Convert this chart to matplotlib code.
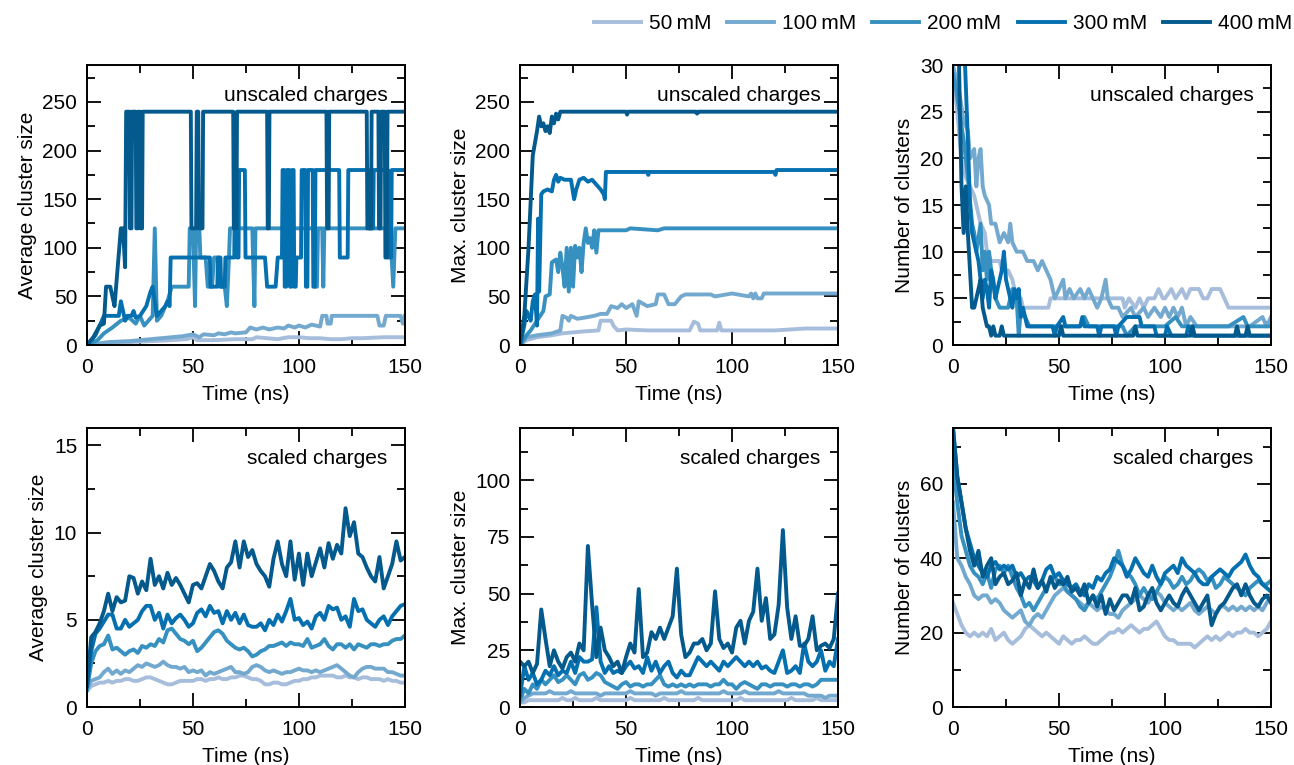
import numpy as np
import matplotlib
matplotlib.use("Agg")
import matplotlib.pyplot as plt
from matplotlib.ticker import MultipleLocator

plt.rcParams['font.family'] = ['Liberation Sans', 'DejaVu Sans']
plt.rcParams['font.size'] = 15
plt.rcParams['axes.linewidth'] = 1.4

labels = ['50\u2009mM', '100\u2009mM', '200\u2009mM', '300\u2009mM', '400\u2009mM']
colors = ['#a6bddb', '#74a9cf', '#3690c0', '#0570b0', '#045a8d']

# ---- unscaled charges, (time ns, value) pairs ----
avg_u_50 = [(0, 0), (10, 2), (20, 3), (30, 4), (40, 5), (47, 6), (50, 8), (52, 5), (60, 5), (70, 6), (78, 6),
            (80, 8), (85, 7), (90, 6), (95, 8), (100, 8), (105, 7), (110, 7), (115, 6), (120, 6), (125, 7),
            (130, 7), (140, 8), (150, 8)]
avg_u_100 = [(0, 0), (10, 3), (20, 4), (30, 6), (40, 8), (45, 9), (50, 11), (53, 8), (55, 11), (60, 10), (62, 12),
             (65, 11), (68, 13), (70, 12), (75, 13), (77, 18), (80, 16), (83, 18), (86, 16), (90, 18), (93, 17),
             (95, 20), (98, 18), (100, 20), (103, 18), (106, 21), (110, 19), (111, 30), (113, 30), (113.5, 22),
             (115, 22), (115.5, 30), (137, 30), (138, 20), (140, 20), (141, 30), (148, 30), (149, 22), (150, 30)]
avg_u_200 = [(0, 0), (5, 5), (8, 12), (12, 18), (16, 25), (20, 28), (23, 22), (25, 30), (27, 20), (29, 25),
             (31, 30), (32, 120), (33, 25), (35, 30), (38, 45), (40, 60), (48, 60), (48.5, 120), (50, 120),
             (51, 40), (51.5, 120), (53, 120), (53.5, 90), (56, 90), (57, 60), (59, 60), (60, 90), (62, 90),
             (62.5, 60), (65, 60), (66, 40), (67, 90), (67.5, 120), (78, 120), (79, 40), (79.5, 120), (107, 120),
             (107.5, 60), (108.5, 60), (109, 120), (111, 120), (111.5, 60), (112, 120), (143, 120), (144.5, 60),
             (145.5, 120), (150, 120)]
avg_u_300 = [(0, 0), (4, 10), (6, 20), (8, 30), (15, 30), (16, 45), (17, 35), (18, 25), (19, 30), (21, 30),
             (22, 35), (23, 28), (25, 30), (28, 40), (30, 55), (31, 60), (32, 45), (33, 30), (35, 35), (37, 40),
             (38, 45), (39, 40), (39.5, 90), (58, 90), (58.3, 60), (61.5, 60), (61.8, 90), (63, 90), (63.3, 60),
             (65, 60), (65.3, 90), (69.5, 90), (69.8, 180), (70.5, 180), (70.8, 90), (71.5, 90), (71.8, 180),
             (74.5, 180), (74.8, 90), (84, 90), (85, 60), (89, 60), (90, 90), (92, 90), (92.3, 180), (93, 180),
             (93.3, 60), (94, 60), (94.3, 180), (95.5, 180), (95.8, 60), (96.5, 60), (96.8, 180), (97.5, 180),
             (97.8, 60), (98.5, 60), (98.8, 90), (101, 90), (101.3, 180), (103, 180), (103.3, 60), (104, 60),
             (104.3, 180), (106.5, 180), (106.8, 60), (107.5, 60), (107.8, 180), (119, 180), (119.3, 90),
             (123, 90), (123.3, 180), (133, 180), (133.3, 120), (135, 120), (135.3, 180), (142, 180),
             (142.3, 90), (143.5, 90), (143.8, 180), (150, 180)]
avg_u_400 = [(0, 0), (3, 8), (6, 20), (8, 22), (9, 60), (11, 60), (12, 50), (13, 40), (14.5, 80), (16, 120),
             (17, 120), (18, 80), (18.5, 240), (20, 240), (20.3, 120), (21, 120), (21.3, 240), (23, 240),
             (23.3, 120), (24, 120), (24.3, 240), (25, 240), (25.3, 120), (26, 120), (26.3, 240), (49, 240),
             (49.3, 120), (51.5, 120), (51.8, 240), (52.5, 240), (52.8, 120), (54.5, 120), (54.8, 240), (69, 240),
             (69.3, 120), (70.5, 120), (70.8, 240), (85, 240), (85.3, 120), (85.8, 120), (86.1, 240), (113, 240),
             (113.3, 120), (114, 120), (114.3, 240), (132, 240), (132.3, 120), (134, 120), (134.3, 240),
             (137.5, 240), (137.8, 120), (138.5, 120), (138.8, 240), (140.5, 240), (140.8, 90), (141.5, 90),
             (141.8, 240), (150, 240)]

max_u_50 = [(0, 0), (3, 5), (8, 8), (15, 10), (20, 12), (25, 13), (30, 14), (37, 15), (38, 25), (43, 25),
            (44, 20), (46, 15), (50, 16), (60, 15), (70, 15), (80, 15), (82, 24), (84, 22), (85, 15), (93, 15),
            (94, 23), (95, 15), (110, 15), (120, 15), (135, 17), (150, 17)]
max_u_100 = [(0, 0), (3, 8), (8, 10), (15, 12), (19, 15), (20, 30), (22, 28), (23, 25), (24, 30), (27, 27),
             (30, 28), (35, 30), (38, 32), (41, 32), (43, 40), (46, 38), (48, 42), (50, 38), (53, 42), (55, 30),
             (56, 45), (60, 40), (64, 42), (65, 52), (68, 52), (70, 42), (73, 42), (76, 50), (78, 52), (90, 52),
             (92, 50), (100, 53), (108, 50), (109, 53), (110, 48), (111, 53), (112, 48), (114, 48), (115, 53),
             (150, 53)]
max_u_200 = [(0, 0), (3, 10), (5, 15), (8, 25), (11, 35), (12, 50), (14, 52), (15, 85), (17, 88), (18, 75),
             (19, 95), (20, 80), (21, 60), (22, 100), (23, 55), (24, 100), (25, 60), (26, 102), (27, 90),
             (28, 100), (29, 75), (30, 105), (31, 120), (32, 105), (33, 110), (34, 100), (35, 118), (36, 95),
             (37, 118), (50, 118), (52, 120), (65, 118), (68, 120), (150, 120)]
max_u_300 = [(0, 0), (2, 20), (3, 35), (4, 30), (5, 25), (6, 45), (7, 52), (8, 20), (8.5, 130), (9, 55),
             (10, 155), (11, 158), (13, 160), (15, 158), (16, 170), (17, 175), (18, 168), (19, 172), (21, 170),
             (24, 170), (25.5, 150), (26.5, 160), (28, 170), (30, 172), (32, 168), (34, 170), (36, 165), (38, 160),
             (39.5, 155), (40, 150), (40.5, 178), (60, 178), (60.5, 175), (61, 178), (120, 178), (120.5, 175),
             (121, 180), (150, 180)]
max_u_400 = [(0, 0), (2, 30), (4, 100), (6, 195), (8, 220), (9, 235), (10, 225), (11, 228), (12, 220), (13, 225),
             (14, 218), (15, 235), (16, 228), (17, 238), (18, 232), (19, 240), (50, 240), (50.5, 237), (51, 240),
             (83, 240), (83.5, 238), (84, 240), (150, 240)]

num_u_50 = [(0, 29), (2, 25), (4, 20), (6, 18), (10, 16), (13, 13), (15, 12), (16, 10), (18, 9), (22, 9),
            (23, 8), (26, 8), (28, 7), (30, 5), (32, 5), (33, 4), (45, 4), (46, 5), (80, 5), (81, 4), (83, 5),
            (86, 4), (88, 5), (90, 4), (92, 5), (95, 5), (97, 6), (99, 5), (100, 5), (103, 6), (105, 5), (108, 6),
            (110, 5), (112, 6), (116, 6), (118, 5), (120, 5), (122, 6), (126, 6), (128, 5), (130, 4), (150, 4)]
num_u_100 = [(0, 30), (3, 27), (5, 24), (7, 23), (8, 20), (10, 21), (11, 17), (12, 20), (13, 21), (14, 17),
             (15, 16), (17, 15), (18, 13), (20, 13), (22, 11), (24, 12), (26, 11), (27, 13), (28, 11), (30, 10),
             (33, 10), (35, 9), (38, 9), (40, 8), (42, 9), (44, 8), (46, 7), (48, 5), (50, 6), (52, 7), (53, 5),
             (55, 6), (57, 5), (60, 6), (62, 5), (64, 6), (66, 5), (68, 4), (70, 5), (72, 7), (73, 5), (75, 4),
             (78, 4), (80, 3), (84, 4), (86, 3), (90, 4), (92, 3), (95, 4), (98, 3), (100, 4), (102, 3), (104, 4),
             (106, 3), (108, 4), (110, 2), (112, 3), (115, 2), (140, 2), (146, 3), (148, 2), (150, 3)]
num_u_200 = [(0, 29), (1, 28), (3, 25), (5, 22), (7, 18), (9, 13), (10, 12), (11, 10), (13, 13), (14, 8),
             (15, 10), (16, 7), (17, 10), (18, 8), (20, 5), (22, 4), (26, 4), (28, 6), (30, 5), (31, 1), (32, 4),
             (34, 3), (36, 2), (60, 2), (62, 3), (64, 2), (80, 2), (82, 1), (86, 2), (100, 2), (105, 3), (108, 2),
             (130, 2), (137, 3), (139, 2), (150, 2)]
num_u_300 = [(0, 60), (4, 40), (6, 28), (7, 22), (8, 15), (9, 12), (10, 11), (11, 10), (12, 9), (13, 7), (14, 5),
             (15, 7), (16, 6), (17, 4), (18, 8), (19, 7), (20, 5), (21, 6), (22, 7), (23, 8), (24, 10), (25, 7),
             (26, 6), (27, 5), (28, 4), (29, 6), (30, 5), (31, 6), (32, 3), (33, 4), (34, 3), (35, 2), (47, 2),
             (48, 1), (49, 2), (52, 3), (53, 2), (60, 2), (61, 3), (62, 2), (68, 2), (69, 1), (70, 2), (76, 2),
             (77, 1), (78, 2), (82, 3), (88, 3), (89, 2), (95, 2), (96, 1), (100, 1), (101, 2), (103, 1),
             (110, 1), (111, 2), (113, 1), (150, 1)]
num_u_400 = [(0, 60), (2, 40), (3, 28), (4, 17), (5, 12), (6, 17), (7, 12), (8, 8), (9, 4), (10, 4), (11, 5),
             (12, 6), (13, 7), (14, 4), (15, 3), (16, 2), (17, 2), (18, 1), (19, 2), (20, 1), (22, 1), (23, 2),
             (24, 1), (50, 1), (51, 2), (52, 1), (85, 1), (86, 2), (87, 1), (112, 1), (113, 2), (114, 1),
             (133, 1), (134, 2), (135, 1), (138, 1), (139, 2), (140, 1), (150, 1)]

avg_unscaled = [avg_u_50, avg_u_100, avg_u_200, avg_u_300, avg_u_400]
max_unscaled = [max_u_50, max_u_100, max_u_200, max_u_300, max_u_400]
num_unscaled = [num_u_50, num_u_100, num_u_200, num_u_300, num_u_400]

# ---- scaled charges: sampled every 2 ns ----
time_scaled = np.arange(0, 151, 2)

avg_s = [
    [0.9, 1.2, 1.3, 1.4, 1.4, 1.5, 1.4, 1.5, 1.5, 1.6, 1.6, 1.5, 1.5, 1.6, 1.7, 1.7, 1.6, 1.5, 1.4, 1.3,
     1.3, 1.4, 1.5, 1.5, 1.5, 1.5, 1.6, 1.6, 1.5, 1.6, 1.6, 1.7, 1.6, 1.6, 1.7, 1.7, 1.8, 1.8, 1.7, 1.6,
     1.6, 1.5, 1.3, 1.3, 1.4, 1.4, 1.3, 1.3, 1.4, 1.5, 1.5, 1.6, 1.6, 1.7, 1.7, 1.8, 1.8, 1.8, 1.8, 1.7,
     1.7, 1.8, 1.7, 1.7, 1.6, 1.7, 1.7, 1.6, 1.6, 1.6, 1.5, 1.6, 1.5, 1.5, 1.4, 1.4],
    [1.0, 1.5, 1.6, 1.7, 2.0, 2.2, 1.9, 2.1, 1.9, 2.1, 2.0, 2.2, 2.4, 2.3, 2.5, 2.4, 2.3, 2.4, 2.6, 2.4,
     2.3, 2.3, 2.2, 2.3, 2.0, 2.1, 2.0, 2.1, 1.8, 2.0, 1.9, 2.0, 2.1, 2.2, 2.3, 2.0, 2.0, 1.9, 2.0, 2.3,
     2.4, 2.3, 2.1, 2.0, 2.1, 2.0, 1.9, 2.0, 2.0, 2.1, 2.2, 2.1, 2.1, 2.0, 2.1, 2.0, 2.1, 2.2, 2.3, 2.4,
     2.2, 2.0, 1.8, 1.7, 2.0, 2.2, 2.3, 2.3, 2.2, 2.2, 2.2, 2.0, 2.0, 1.9, 1.8, 1.8],
    [1.0, 2.5, 3.2, 3.5, 3.6, 4.1, 3.3, 3.4, 3.2, 3.0, 3.2, 3.3, 3.1, 3.5, 3.4, 3.6, 3.5, 3.9, 3.7, 4.4,
     4.5, 4.2, 3.9, 3.8, 3.6, 3.8, 3.2, 3.4, 3.7, 4.0, 4.3, 4.4, 4.2, 3.8, 3.6, 3.4, 3.3, 3.4, 3.2, 2.9,
     3.0, 3.2, 3.3, 3.5, 3.5, 3.6, 3.7, 3.5, 3.7, 3.6, 3.6, 3.5, 3.9, 3.4, 3.5, 3.6, 3.9, 3.5, 3.3, 3.6,
     3.6, 3.4, 3.6, 3.3, 3.6, 3.5, 3.4, 3.6, 3.6, 3.5, 3.6, 3.6, 3.8, 3.9, 3.9, 4.1],
    [1.2, 3.2, 4.2, 4.5, 4.9, 5.3, 5.3, 4.5, 4.5, 5.0, 4.6, 4.8, 5.0, 5.5, 5.8, 5.8, 5.0, 5.4, 4.5, 5.3,
     4.8, 5.1, 5.3, 5.0, 4.6, 4.8, 5.4, 5.6, 5.2, 5.8, 5.4, 5.5, 4.8, 5.5, 5.0, 5.4, 4.8, 5.3, 4.7, 4.6,
     4.6, 4.8, 4.4, 5.0, 4.7, 5.3, 4.9, 5.5, 6.2, 5.0, 5.1, 4.7, 4.9, 4.5, 5.2, 5.4, 5.0, 5.8, 5.6, 5.7,
     5.0, 5.2, 4.6, 6.2, 5.5, 5.6, 5.0, 4.8, 4.6, 5.0, 5.2, 4.7, 5.2, 5.5, 5.8, 5.9],
    [1.2, 4.0, 4.3, 4.8, 5.5, 6.5, 5.5, 6.3, 6.0, 6.1, 7.5, 7.4, 6.5, 7.2, 6.7, 8.5, 7.0, 7.5, 6.8, 7.7,
     7.0, 7.4, 7.0, 6.5, 6.0, 7.0, 7.1, 6.8, 7.5, 8.2, 7.8, 7.2, 6.8, 8.0, 8.3, 9.5, 8.0, 9.5, 8.6, 9.0,
     8.2, 7.8, 7.5, 6.9, 8.5, 9.5, 8.2, 7.5, 9.5, 7.3, 8.8, 7.0, 8.8, 7.5, 8.3, 9.1, 8.0, 9.4, 8.5, 9.3,
     8.8, 11.4, 9.8, 10.6, 8.8, 8.6, 8.0, 7.5, 7.2, 8.6, 6.8, 7.5, 8.2, 9.5, 8.4, 8.6],
]

max_s = [
    [2, 2, 3, 3, 3, 3, 3, 3, 3, 3, 4, 3, 3, 4, 3, 3, 3, 3, 4, 3,
     3, 3, 3, 3, 3, 3, 4, 3, 3, 3, 3, 3, 3, 3, 4, 3, 3, 3, 3, 3,
     3, 3, 4, 3, 3, 3, 3, 3, 3, 3, 3, 3, 4, 3, 3, 3, 3, 3, 3, 3,
     3, 3, 3, 3, 4, 3, 3, 3, 3, 3, 4, 3, 3, 3, 3, 3],
    [2, 4, 5, 6, 6, 6, 6, 7, 6, 6, 6, 6, 7, 6, 6, 6, 6, 6, 6, 5,
     6, 6, 6, 6, 6, 6, 7, 6, 6, 6, 6, 6, 5, 6, 6, 6, 6, 6, 7, 6,
     6, 6, 6, 6, 6, 6, 6, 6, 7, 6, 6, 6, 6, 7, 6, 6, 6, 6, 6, 6,
     6, 7, 6, 6, 6, 6, 6, 6, 5, 5, 5, 5, 4, 5, 5, 5],
    [3, 8, 6, 10, 8, 12, 10, 12, 14, 11, 12, 14, 12, 10, 14, 15, 12, 13, 15, 14,
     11, 10, 9, 8, 10, 11, 9, 10, 10, 9, 10, 10, 12, 14, 10, 9, 10, 9, 10, 9,
     10, 9, 10, 10, 10, 9, 10, 10, 12, 10, 10, 8, 10, 11, 10, 9, 8, 10, 10, 9,
     10, 10, 10, 9, 10, 10, 9, 10, 10, 9, 10, 12, 12, 12, 12, 12],
    [5, 18, 12, 15, 10, 12, 16, 14, 18, 14, 16, 15, 20, 15, 22, 20, 20, 21, 44, 20,
     15, 18, 15, 16, 15, 18, 20, 17, 18, 15, 22, 16, 20, 15, 18, 20, 15, 13, 16, 14,
     14, 18, 22, 20, 18, 20, 18, 16, 20, 18, 20, 22, 20, 18, 20, 18, 20, 17, 18, 16,
     15, 20, 25, 15, 16, 18, 15, 28, 20, 18, 20, 25, 16, 20, 18, 30],
    [20, 18, 20, 15, 19, 43, 30, 18, 25, 20, 17, 22, 24, 20, 28, 25, 71, 45, 22, 35,
     25, 22, 18, 20, 15, 22, 28, 24, 52, 22, 24, 33, 30, 35, 30, 35, 40, 61, 32, 22,
     24, 28, 28, 30, 25, 28, 51, 30, 26, 28, 24, 35, 38, 28, 38, 42, 61, 38, 48, 30,
     32, 45, 78, 44, 30, 40, 27, 27, 30, 40, 25, 27, 28, 26, 30, 50],
]

num_s = [
    [28, 25, 22, 20, 19, 20, 19, 20, 19, 21, 18, 19, 20, 18, 17, 18, 19, 21, 22, 21,
     20, 19, 20, 19, 18, 17, 19, 18, 17, 18, 18, 19, 18, 17, 17, 18, 19, 20, 20, 21,
     20, 21, 22, 21, 20, 21, 21, 22, 23, 21, 19, 18, 18, 17, 17, 17, 17, 16, 17, 18,
     19, 18, 19, 18, 19, 20, 19, 20, 20, 21, 20, 20, 19, 20, 21, 23],
    [55, 40, 38, 35, 33, 30, 29, 30, 30, 28, 29, 28, 26, 25, 24, 25, 26, 23, 22, 24,
     25, 24, 26, 28, 30, 31, 32, 31, 30, 29, 28, 27, 28, 27, 26, 27, 26, 25, 25, 24,
     26, 27, 28, 29, 30, 29, 28, 30, 31, 30, 28, 27, 26, 27, 26, 27, 28, 26, 25, 26,
     27, 26, 25, 27, 27, 26, 27, 26, 27, 26, 27, 26, 27, 26, 28, 30],
    [65, 55, 46, 42, 38, 36, 35, 33, 36, 32, 37, 38, 36, 38, 35, 32, 30, 27, 28, 26,
     28, 30, 32, 34, 35, 33, 33, 31, 30, 29, 27, 26, 28, 30, 29, 31, 33, 35, 38, 42,
     38, 36, 35, 33, 30, 32, 30, 29, 31, 33, 35, 34, 32, 33, 35, 33, 34, 36, 37, 36,
     34, 35, 32, 33, 35, 34, 33, 32, 31, 30, 32, 33, 34, 33, 33, 34],
    [75, 62, 55, 48, 44, 40, 38, 36, 35, 38, 39, 37, 38, 37, 38, 35, 36, 34, 35, 34,
     32, 34, 37, 38, 35, 36, 34, 33, 32, 33, 31, 30, 33, 32, 35, 34, 36, 37, 40, 39,
     38, 35, 37, 40, 38, 36, 35, 38, 35, 33, 36, 37, 38, 36, 40, 38, 37, 36, 34, 33,
     33, 35, 36, 37, 36, 35, 37, 38, 39, 41, 38, 36, 35, 33, 32, 31],
    [75, 62, 55, 48, 42, 38, 42, 35, 38, 40, 33, 35, 36, 33, 34, 36, 30, 34, 32, 37,
     32, 34, 31, 35, 32, 34, 33, 35, 31, 32, 30, 33, 28, 30, 27, 30, 25, 29, 26, 28,
     30, 30, 28, 32, 26, 27, 30, 32, 28, 26, 28, 30, 28, 27, 30, 32, 30, 28, 26, 28,
     30, 22, 25, 27, 28, 30, 32, 33, 30, 33, 30, 28, 27, 29, 30, 28],
]

fig = plt.figure(figsize=(12.94, 7.65), dpi=100)

lefts = [0.0672, 0.4019, 0.7365]
w = 0.2457
rows = [(0.549, 0.366), (0.0758, 0.3647)]


def style(ax, ylim, ymaj, ymin, ylabel, tag):
    ax.set_xlim(0, 150)
    ax.set_ylim(*ylim)
    ax.xaxis.set_major_locator(MultipleLocator(50))
    ax.xaxis.set_minor_locator(MultipleLocator(25))
    ax.yaxis.set_major_locator(MultipleLocator(ymaj))
    ax.yaxis.set_minor_locator(MultipleLocator(ymin))
    ax.tick_params(which='both', direction='in', top=True, right=True, width=1.3, labelsize=15)
    ax.tick_params(which='major', length=10)
    ax.tick_params(which='minor', length=6)
    ax.tick_params(axis='x', which='major', pad=9)
    ax.tick_params(axis='y', which='major', pad=7)
    ax.set_xlabel('Time (ns)', fontsize=15, labelpad=6)
    ax.set_ylabel(ylabel, fontsize=15, labelpad=4)
    ax.text(0.945, 0.89, tag, transform=ax.transAxes, ha='right', va='center', fontsize=15)


lw = 2.8

# top row: unscaled charges
top_sets = [(avg_unscaled, (0, 288), 50, 25, 'Average cluster size'),
            (max_unscaled, (0, 288), 50, 25, 'Max. cluster size'),
            (num_unscaled, (0, 30), 5, 2.5, 'Number of clusters')]
handles = []
for col, (series, ylim, ymaj, ymin, ylabel) in enumerate(top_sets):
    ax = fig.add_axes([lefts[col], rows[0][0], w, rows[0][1]])
    for i, pts in enumerate(series):
        arr = np.array(pts, dtype=float)
        ln, = ax.plot(arr[:, 0], arr[:, 1], color=colors[i], lw=lw, label=labels[i])
        if col == 0:
            handles.append(ln)
    style(ax, ylim, ymaj, ymin, ylabel, 'unscaled charges')

# bottom row: scaled charges
bottom_sets = [(avg_s, (0, 16), 5, 2.5, 'Average cluster size'),
               (max_s, (0, 123), 25, 12.5, 'Max. cluster size'),
               (num_s, (0, 75), 20, 10, 'Number of clusters')]
for col, (series, ylim, ymaj, ymin, ylabel) in enumerate(bottom_sets):
    ax = fig.add_axes([lefts[col], rows[1][0], w, rows[1][1]])
    for i, vals in enumerate(series):
        ax.plot(time_scaled, vals, color=colors[i], lw=lw)
    style(ax, ylim, ymaj, ymin, ylabel, 'scaled charges')

fig.legend(handles, labels, loc='upper right', bbox_to_anchor=(1.013, 1.006), ncol=5, frameon=False,
           fontsize=15, handlelength=2.26, handletextpad=0.38, columnspacing=0.77)

fig.savefig('out.png', dpi=100)
